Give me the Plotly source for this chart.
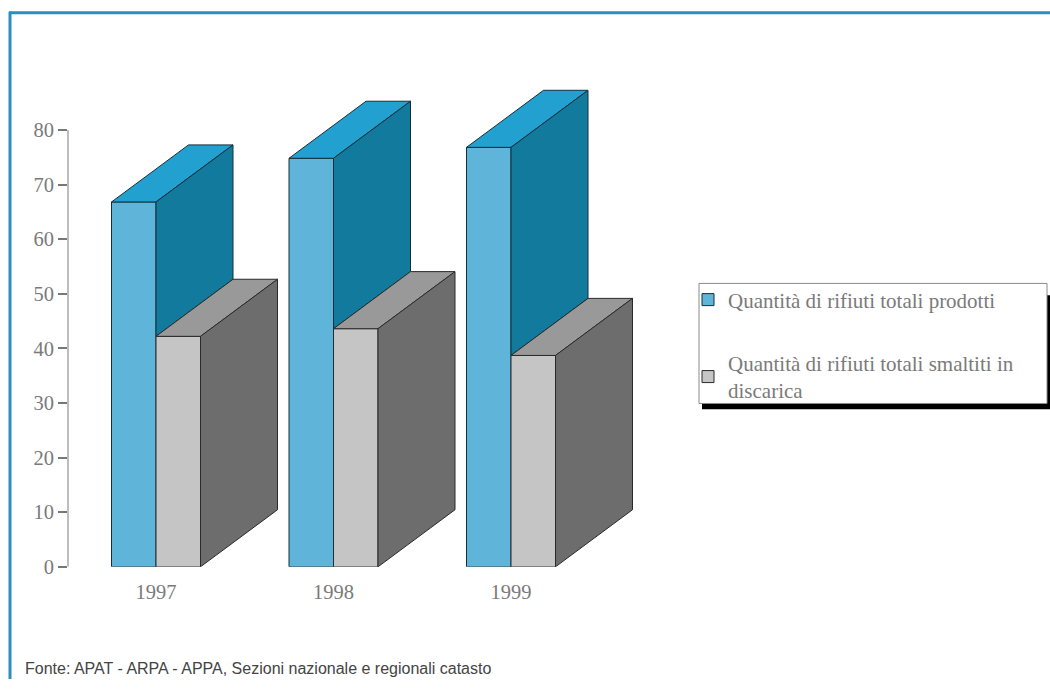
import plotly.graph_objects as go

years = ["1997", "1998", "1999"]
prodotti = [66.8, 74.8, 76.8]
discarica = [42.2, 43.6, 38.7]
y_ticks = [0, 10, 20, 30, 40, 50, 60, 70, 80]
name_prodotti = "Quantità di rifiuti totali prodotti"
name_discarica = "Quantità di rifiuti totali smaltiti in<br>discarica"
source = "Fonte: APAT - ARPA - APPA, Sezioni nazionale e regionali catasto"

W, H = 1050, 690
PX_X = 177.5     # pixels per category
PX_Y = 5.55      # pixels per value unit
BAR = 44.5 / PX_X
DX = 77 / PX_X
DY = 58 / PX_Y
AX_L, AX_R, AX_T, AX_B = 68, 640, 60, 576
EDGE = "#14303c"
EDGE2 = "#2a2a2a"
SERIF = "Liberation Serif"

pos = list(range(len(years)))
fig = go.Figure()

fig.add_trace(go.Bar(x=pos, y=prodotti, width=BAR, offset=-BAR, name=name_prodotti,
                     legendgroup="a", marker=dict(color="#5fb4da", line=dict(color=EDGE, width=1))))
fig.add_trace(go.Bar(x=pos, y=discarica, width=BAR, offset=0, name=name_discarica,
                     legendgroup="b", marker=dict(color="#c5c5c5", line=dict(color=EDGE2, width=1))))


def face(xs, ys, color, edge):
    fig.add_trace(go.Scatter(x=xs, y=ys, mode="lines", fill="toself", fillcolor=color,
                             line=dict(color=edge, width=1), showlegend=False, hoverinfo="skip"))


for p, v, g in zip(pos, prodotti, discarica):
    face([p - BAR, p, p + DX, p - BAR + DX, p - BAR], [v, v, v + DY, v + DY, v], "#22a0cf", EDGE)
    face([p, p + DX, p + DX, p, p], [v, v + DY, g + DY, g, v], "#127a9c", EDGE)
    face([p, p + BAR, p + BAR + DX, p + DX, p], [g, g, g + DY, g + DY, g], "#999999", EDGE2)
    face([p + BAR, p + BAR + DX, p + BAR + DX, p + BAR, p + BAR], [g, g + DY, DY, 0, g], "#6d6d6d", EDGE2)

x0 = 156
fig.update_layout(
    width=W, height=H, autosize=False, margin=dict(l=0, r=0, t=0, b=0),
    paper_bgcolor="white", plot_bgcolor="white", showlegend=True,
    barmode="overlay",
    font=dict(family=SERIF, color="#7a7a7a", size=18),
    xaxis=dict(domain=[AX_L / W, AX_R / W],
               range=[(AX_L - x0) / PX_X, (AX_R - x0) / PX_X],
               tickmode="array", tickvals=pos, ticktext=years,
               showgrid=False, zeroline=False, showline=False, ticks="",
               ticklabelstandoff=11, tickfont=dict(size=20.5, family=SERIF, color="#7a7a7a")),
    yaxis=dict(domain=[(H - AX_B) / H, (H - AX_T) / H],
               range=[0, (AX_B - AX_T) / PX_Y],
               tickmode="array", tickvals=y_ticks,
               showgrid=False, zeroline=False, showline=False,
               ticks="outside", ticklen=9, tickwidth=1.5, tickcolor="#777777",
               tickfont=dict(size=20.5, family=SERIF, color="#7a7a7a")),
    legend=dict(x=688 / W, y=(H - 284) / H, xanchor="left", yanchor="top",
                bgcolor="rgba(0,0,0,0)", borderwidth=0,
                traceorder="grouped", tracegroupgap=33, itemclick=False, itemdoubleclick=False,
                font=dict(family=SERIF, size=21, color="#7a7a7a")),
    shapes=[
        dict(type="line", xref="x domain", yref="y", x0=0, x1=0, y0=0, y1=80,
             line=dict(color="#bdbdbd", width=2)),
        dict(type="rect", xref="paper", yref="paper", x0=702 / W, x1=1, y0=(H - 416) / H, y1=(H - 300) / H,
             fillcolor="black", line=dict(width=0), layer="below"),
        dict(type="rect", xref="paper", yref="paper", x0=699 / W, x1=1047 / W, y0=(H - 410) / H, y1=(H - 288) / H,
             fillcolor="white", line=dict(color="#8a8a8a", width=1), layer="below"),
        dict(type="line", xref="paper", yref="paper", x0=10 / W, x1=10 / W, y0=0, y1=(H - 12) / H,
             line=dict(color="#2a8fc0", width=3)),
        dict(type="line", xref="paper", yref="paper", x0=9 / W, x1=1, y0=(H - 13) / H, y1=(H - 13) / H,
             line=dict(color="#2a8fc0", width=3)),
    ],
    annotations=[dict(text=source, xref="paper", yref="paper", x=23 / W, y=(H - 679) / H,
                      xanchor="left", yanchor="middle", showarrow=False,
                      font=dict(family="Liberation Sans", size=16, color="#444444"))],
)

fig.write_html("out.html", config={"displayModeBar": False},
               post_script="document.body.style.margin='0';")
